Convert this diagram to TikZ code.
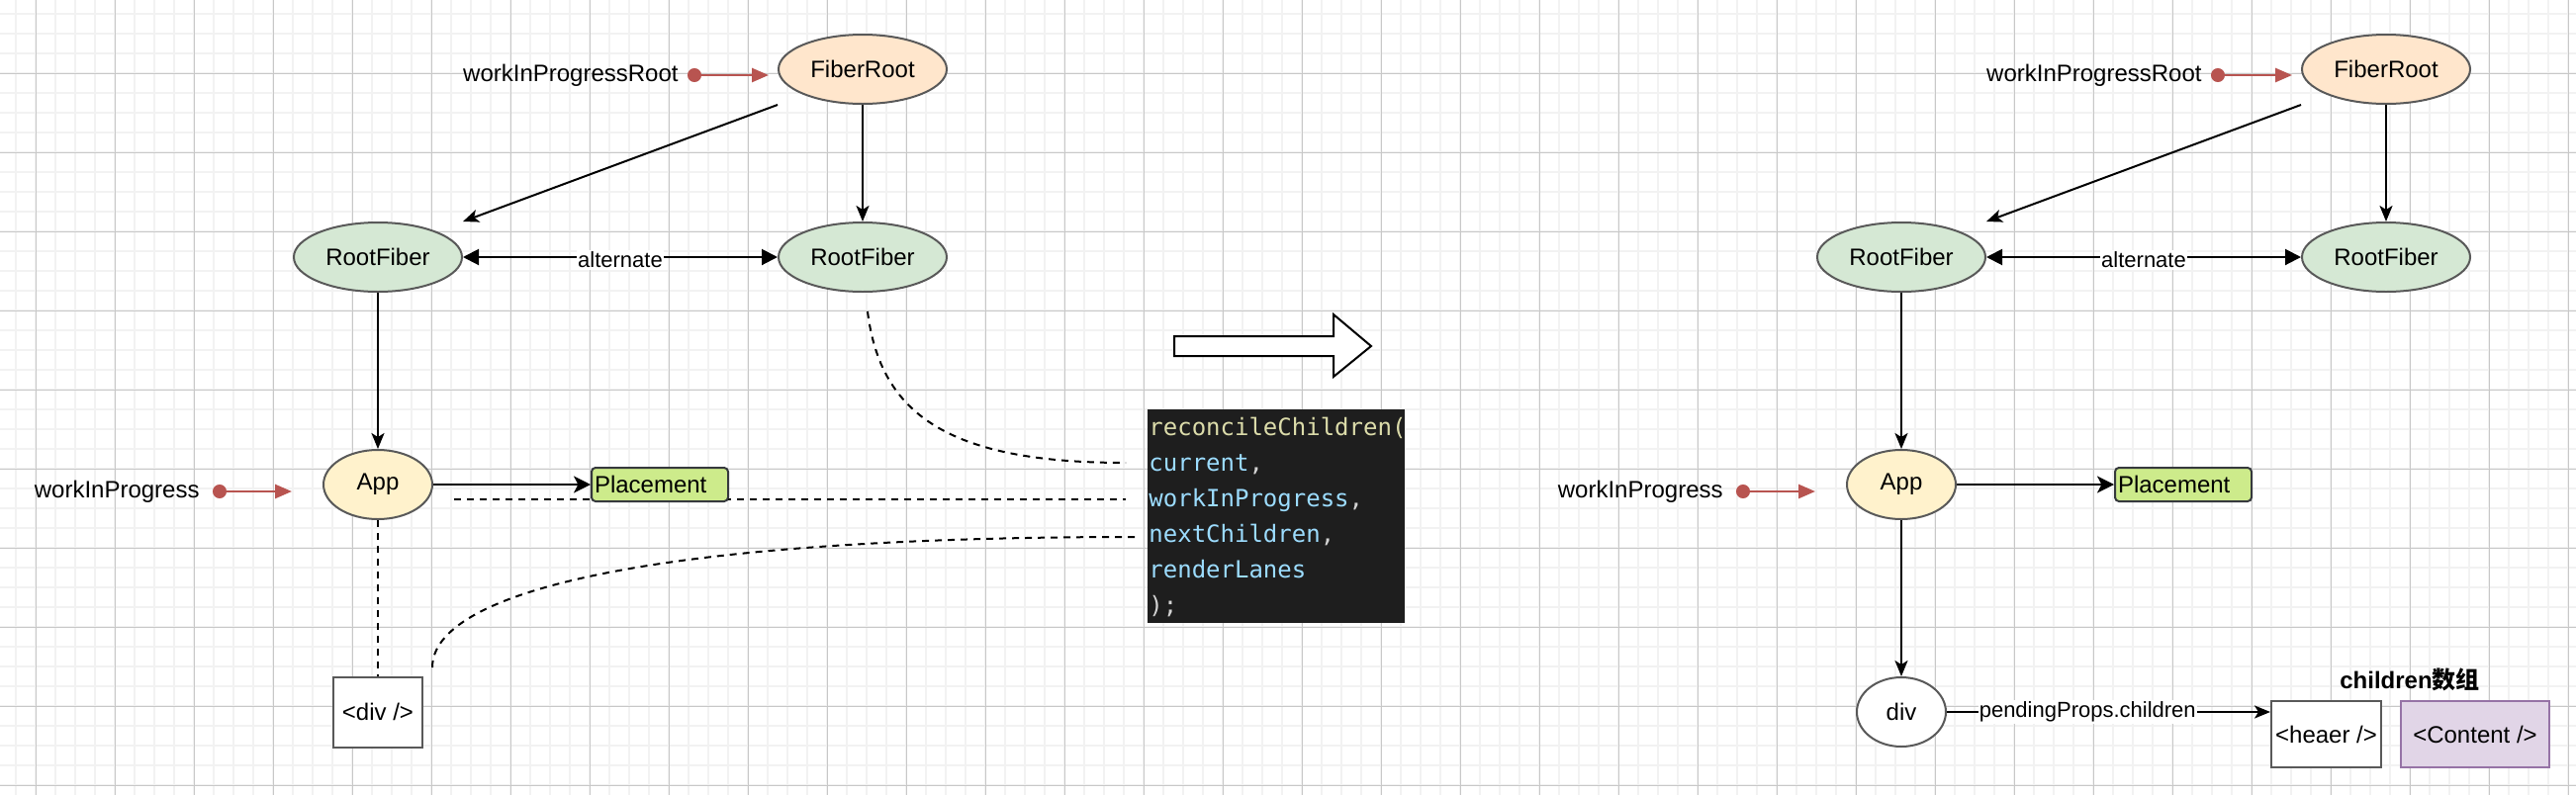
\documentclass[tikz,border=0pt]{standalone}
\usepackage{fontspec}
\setmainfont{Liberation Sans}
\newfontfamily\codefont{DejaVu Sans Mono}
\newfontfamily\cjkfont{Noto Sans CJK SC}
\usetikzlibrary{shapes.geometric,arrows.meta}
\definecolor{gridminor}{HTML}{F2F2F2}
\definecolor{gridmajor}{HTML}{C8C8C8}
\definecolor{peach}{HTML}{FFE6CC}
\definecolor{mint}{HTML}{D5E8D4}
\definecolor{cream}{HTML}{FFF2CC}
\definecolor{lime}{HTML}{CDEB8B}
\definecolor{limeline}{HTML}{36393D}
\definecolor{lilac}{HTML}{E1D5E7}
\definecolor{lilacline}{HTML}{9673A6}
\definecolor{shapeline}{HTML}{595959}
\definecolor{ptrred}{HTML}{B85450}
\definecolor{codebg}{HTML}{1E1E1E}
\definecolor{codefn}{HTML}{DCDCAA}
\definecolor{codevar}{HTML}{9CDCFE}
\definecolor{codepunct}{HTML}{D4D4D4}
\begin{document}
\begin{tikzpicture}[x=0.5pt,y=-0.5pt,
  lbl/.style={font=\fontsize{12pt}{14pt}\selectfont, inner sep=0pt},
  shapebase/.style={draw=shapeline, line width=1pt, inner sep=0pt, font=\fontsize{12pt}{14pt}\selectfont},
  fibell/.style={shapebase, ellipse, minimum width=85pt, minimum height=35pt},
  frnode/.style={fibell, fill=peach},
  rfnode/.style={fibell, fill=mint},
  appnode/.style={shapebase, ellipse, fill=cream, minimum width=55pt, minimum height=35pt},
  divell/.style={shapebase, ellipse, fill=white, minimum width=45pt, minimum height=35pt},
  tagbox/.style={shapebase, rectangle, fill=white},
  plnode/.style={shapebase, draw=limeline, fill=lime, rounded corners=2pt, minimum height=17pt, text width=66pt, inner xsep=1.5pt, align=left},
  edge/.style={draw=black, line width=1pt, -{Stealth[length=8pt,width=6.5pt,inset=2pt]}},
  bigedge/.style={draw=black, line width=1pt, -{Stealth[length=8.5pt,width=8.5pt,inset=2.2pt]}},
  altedge/.style={draw=black, line width=1pt, {Triangle[length=8pt,width=8pt]}-{Triangle[length=8pt,width=8pt]}},
  altlabel/.style={fill=white, inner xsep=0.5pt, inner ysep=1pt, font=\fontsize{11pt}{13pt}\selectfont},
  ptr/.style={draw=ptrred, line width=1.3pt, {Circle[length=7pt,width=7pt]}-{Triangle[length=8.5pt,width=7pt]}},
  dashline/.style={draw=black, line width=1pt, dash pattern=on 3.5pt off 3pt},
  codebox/.style={rectangle, fill=codebg, minimum width=130pt, minimum height=108pt, inner sep=0pt},
  codeline/.style={font=\codefont\fontsize{12pt}{14pt}\selectfont, inner sep=0pt, text=codevar}
]
\useasboundingbox (0,0) rectangle (2604,804);
\fill[white] (0,0) rectangle (2604,804);
% grid
\foreach \x in {16,36,...,2596} \draw[gridminor, line width=1pt] (\x,0) -- (\x,804);
\foreach \y in {14,34,...,794} \draw[gridminor, line width=1pt] (0,\y) -- (2604,\y);
\foreach \x in {36,116,...,2596} \draw[gridmajor, line width=0.5pt] (\x,0) -- (\x,804);
\foreach \y in {74,154,...,794} \draw[gridmajor, line width=0.5pt] (0,\y) -- (2604,\y);

% code box
\node[codebox] (code) at (1290,522) {};
\node[codeline, anchor=base west, text=codefn] (cl1) at (1161,440) {reconcileChildren(};
\node[codeline, anchor=base west] (cl2) at (1161,476) {current\textcolor{codepunct}{,}};
\node[codeline, anchor=base west] (cl3) at (1161,512) {workInProgress\textcolor{codepunct}{,}};
\node[codeline, anchor=base west] (cl4) at (1161,548) {nextChildren\textcolor{codepunct}{,}};
\node[codeline, anchor=base west] (cl5) at (1161,584) {renderLanes};
\node[codeline, anchor=base west, text=codepunct] (cl6) at (1161,620) {);};

% dashed links (behind nodes)
\coordinate (d1s) at (877,315);
\coordinate (d1e) at (1138,468);
\coordinate (d2s) at (459,505);
\coordinate (d2e) at (1138,505);
\coordinate (d3s) at (437,675);
\coordinate (d3e) at (1147,543);
\draw[dashline] (d1s) .. controls (890,420) and (960,468) .. (d1e);
\draw[dashline] (d2s) -- (d2e);
\draw[dashline] (d3s) .. controls (437,600) and (650,543) .. (d3e);

% big hollow arrow
\draw[line width=1pt, fill=white] (1187,340) -- (1348,340) -- (1348,318) -- (1386,350) -- (1348,381) -- (1348,360) -- (1187,360) -- cycle;

% ---------- left diagram ----------
\node[frnode] (fr1) at (872,70) {FiberRoot};
\node[rfnode] (rf1a) at (382,260) {RootFiber};
\node[rfnode] (rf1b) at (872,260) {RootFiber};
\node[appnode] (app1) at (382,490) {App};
\node[plnode] (pl1) at (667,490) {Placement};
\node[tagbox, minimum width=45pt, minimum height=35.5pt] (div1) at (382,720) {<div />};
\node[lbl, anchor=east] (wipr1) at (686,76) {workInProgressRoot};
\node[lbl, anchor=east] (wip1) at (202,497) {workInProgress};
\coordinate (p1s) at (695,76);
\coordinate (p1e) at (777,76);
\coordinate (p2s) at (215,497);
\coordinate (p2e) at (295,497);
\draw[ptr] (p1s) -- (p1e);
\draw[ptr] (p2s) -- (p2e);
\draw[edge] (fr1.west |- fr1.south) -- (rf1a.east |- rf1a.north);
\draw[edge] (fr1) -- (rf1b);
\draw[altedge] (rf1a) -- node[altlabel, yshift=-1.5pt] (alt1) {alternate} (rf1b);
\draw[edge] (rf1a) -- (app1);
\draw[bigedge] (app1) -- (pl1);
\draw[dashline] (app1) -- (div1);

% ---------- right diagram ----------
\node[frnode] (fr2) at (2412,70) {FiberRoot};
\node[rfnode] (rf2a) at (1922,260) {RootFiber};
\node[rfnode] (rf2b) at (2412,260) {RootFiber};
\node[appnode] (app2) at (1922,490) {App};
\node[plnode] (pl2) at (2207,490) {Placement};
\node[divell] (div2) at (1922,720) {div};
\node[tagbox, minimum width=55.5pt, minimum height=33.5pt] (heaer) at (2351.5,742.5) {<heaer />};
\node[tagbox, fill=lilac, draw=lilacline, minimum width=75pt, minimum height=33.5pt] (content) at (2502,742.5) {<Content />};
\node[lbl, font=\fontsize{12pt}{14pt}\selectfont\bfseries] (chl) at (2436,687) {children{\cjkfont\bfseries 数组}};
\node[lbl, anchor=east] (wipr2) at (2226,76) {workInProgressRoot};
\node[lbl, anchor=east] (wip2) at (1742,497) {workInProgress};
\coordinate (p3s) at (2235,76);
\coordinate (p3e) at (2317,76);
\coordinate (p4s) at (1755,497);
\coordinate (p4e) at (1835,497);
\draw[ptr] (p3s) -- (p3e);
\draw[ptr] (p4s) -- (p4e);
\draw[edge] (fr2.west |- fr2.south) -- (rf2a.east |- rf2a.north);
\draw[edge] (fr2) -- (rf2b);
\draw[altedge] (rf2a) -- node[altlabel, yshift=-1.5pt] (alt2) {alternate} (rf2b);
\draw[edge] (rf2a) -- (app2);
\draw[bigedge] (app2) -- (pl2);
\draw[edge] (app2) -- (div2);
\draw[edge] (div2) -- node[altlabel, pos=0.435] (pp) {pendingProps.children} (div2 -| heaer.west);
\end{tikzpicture}
\end{document}
